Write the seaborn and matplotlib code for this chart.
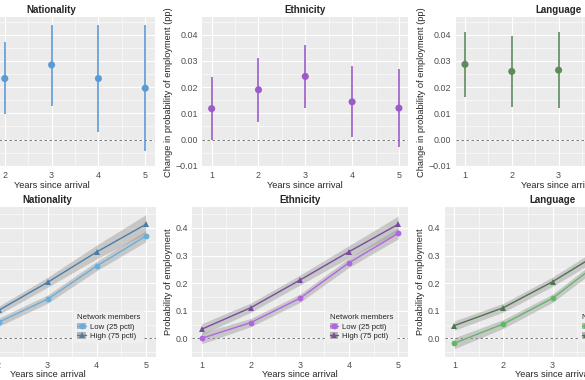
import matplotlib

matplotlib.use("Agg")
import matplotlib.pyplot as plt
import numpy as np
import pandas as pd
import seaborn as sns
from matplotlib.legend_handler import HandlerTuple
from matplotlib.lines import Line2D
from matplotlib.patches import Patch
from matplotlib.ticker import MultipleLocator

# top row: change in probability of employment (point estimate + 95% CI)
nat_years = [2, 3, 4, 5]
nat_est = [0.0233, 0.0285, 0.0233, 0.0196]
nat_lo = [0.0096, 0.0129, 0.0030, -0.0043]
nat_hi = [0.0371, 0.0438, 0.0438, 0.0438]

eth_years = [1, 2, 3, 4, 5]
eth_est = [0.0118, 0.0190, 0.0241, 0.0144, 0.0120]
eth_lo = [-0.0002, 0.0068, 0.0122, 0.0009, -0.0030]
eth_hi = [0.0237, 0.0312, 0.0360, 0.0281, 0.0268]

lang_years = [1, 2, 3]
lang_est = [0.0287, 0.0260, 0.0265]
lang_lo = [0.0164, 0.0124, 0.0122]
lang_hi = [0.0410, 0.0396, 0.0410]

# bottom row: predicted probability of employment, low vs high network
nat_p_years = [2, 3, 4, 5]
nat_p_low = [0.058, 0.142, 0.262, 0.370]
nat_p_high = [0.101, 0.203, 0.313, 0.413]
nat_p_low_se = [0.015, 0.015, 0.017, 0.020]
nat_p_high_se = [0.015, 0.018, 0.025, 0.035]

eth_p_years = [1, 2, 3, 4, 5]
eth_p_low = [0.000, 0.057, 0.145, 0.274, 0.380]
eth_p_high = [0.033, 0.111, 0.211, 0.314, 0.413]
eth_p_low_se = [0.020, 0.015, 0.015, 0.017, 0.020]
eth_p_high_se = [0.020, 0.017, 0.018, 0.022, 0.030]

lang_p_years = [1, 2, 3, 4]
lang_p_low = [-0.018, 0.052, 0.145, 0.281]
lang_p_high = [0.046, 0.111, 0.205, 0.314]
lang_p_low_se = [0.020, 0.016, 0.015, 0.017]
lang_p_high_se = [0.017, 0.016, 0.017, 0.020]

titles = ["Nationality", "Ethnicity", "Language"]
effect_colors = ["#5b9bd5", "#9b5cc8", "#5e8a5e"]
low_colors = ["#6aaedb", "#b066e0", "#63b866"]
high_colors = ["#4a7ea8", "#7a4d9c", "#4f744f"]
legend_labels = ["Low (25 pctl)", "High (75 pctl)"]

sns.set_theme(
    style="darkgrid",
    rc={
        "axes.facecolor": "#ebebeb",
        "grid.color": "white",
        "grid.linewidth": 0.8,
        "xtick.major.size": 1.4,
        "ytick.major.size": 1.4,
        "xtick.major.width": 0.5,
        "ytick.major.width": 0.5,
        "xtick.color": "#333333",
        "ytick.color": "#333333",
        "xtick.labelcolor": "#4d4d4d",
        "ytick.labelcolor": "#4d4d4d",
        "xtick.major.pad": 1.2,
        "ytick.major.pad": 1.5,
        "xtick.labelsize": 6.4,
        "ytick.labelsize": 6.4,
    },
)
plt.rcParams["font.family"] = ["Liberation Sans", "DejaVu Sans"]

W, H = 585, 380
fig = plt.figure(figsize=(W / 100, H / 100), dpi=100)


def px_axes(left, top, width, height):
    return fig.add_axes([left / W, 1 - (top + height) / H, width / W, height / H])


def style_axes(ax, title, ylabel, ylim, minor_y):
    ax.set_xlim(0.8, 5.2)
    ax.set_ylim(*ylim)
    ax.set_xticks([1, 2, 3, 4, 5])
    ax.xaxis.set_minor_locator(MultipleLocator(0.5))
    ax.yaxis.set_minor_locator(MultipleLocator(minor_y))
    ax.grid(which="minor", color="white", linewidth=0.4)
    ax.tick_params(which="minor", length=0)
    ax.axhline(0, color="#666666", linewidth=0.6, linestyle=(0, (3, 3)), zorder=2)
    ax.set_title(title, fontsize=7, fontweight="bold", pad=3)
    ax.set_xlabel("Years since arrival", fontsize=6.7, labelpad=0.8)
    ax.set_ylabel(ylabel, fontsize=6.7, labelpad=2)
    for spine in ax.spines.values():
        spine.set_visible(False)


# top row
top_data = [
    (nat_years, nat_est, nat_lo, nat_hi),
    (eth_years, eth_est, eth_lo, eth_hi),
    (lang_years, lang_est, lang_lo, lang_hi),
]
top_lefts = [-51.4, 202.3, 455.6]
for i, (years, est, lo, hi) in enumerate(top_data):
    ax = px_axes(top_lefts[i], 17, 206, 150)
    style_axes(ax, titles[i], "Change in probability of employment (pp)",
               (-0.0105, 0.0468), 0.005)
    ax.set_yticks([-0.01, 0.0, 0.01, 0.02, 0.03, 0.04])
    ax.set_yticklabels(["\u22120.01", "0.00", "0.01", "0.02", "0.03", "0.04"])
    ax.vlines(years, lo, hi, color=effect_colors[i], linewidth=1.2, zorder=3)
    sns.scatterplot(x=years, y=est, color=effect_colors[i], s=26,
                    edgecolor="none", ax=ax, zorder=4)

# bottom row
bottom_data = [
    (nat_p_years, nat_p_low, nat_p_high, nat_p_low_se, nat_p_high_se),
    (eth_p_years, eth_p_low, eth_p_high, eth_p_low_se, eth_p_high_se),
    (lang_p_years, lang_p_low, lang_p_high, lang_p_low_se, lang_p_high_se),
]
bottom_lefts = [-60.4, 191.9, 444.5]
for i, (years, low, high, low_se, high_se) in enumerate(bottom_data):
    ax = px_axes(bottom_lefts[i], 206.7, 216, 150.3)
    style_axes(ax, titles[i], "Probability of employment", (-0.0678, 0.477), 0.05)
    ax.set_yticks([0.0, 0.1, 0.2, 0.3, 0.4])
    yrs = np.array(years)
    for vals, se, color, marker in [
        (low, low_se, low_colors[i], "o"),
        (high, high_se, high_colors[i], "^"),
    ]:
        vals = np.array(vals)
        se = np.array(se)
        ax.fill_between(yrs, vals - se, vals + se, color="#999999", alpha=0.45,
                        linewidth=0, zorder=3)
        frame = pd.DataFrame({"year": yrs, "p": vals})
        sns.lineplot(data=frame, x="year", y="p", color=color, marker=marker,
                     markersize=4.2, markeredgewidth=0, linewidth=1.0, ax=ax,
                     zorder=4)
    ax.set_xlabel("Years since arrival", fontsize=6.7, labelpad=0.5)
    ax.set_ylabel("Probability of employment", fontsize=6.7, labelpad=2)
    handles = []
    for color, marker in [(low_colors[i], "o"), (high_colors[i], "^")]:
        handles.append((
            Patch(facecolor="#b4b4b4", edgecolor="none"),
            Line2D([], [], color=color, marker=marker, markersize=4.2,
                   markeredgewidth=0, linewidth=1.0),
        ))
    leg = ax.legend(
        handles, legend_labels, title="Network members",
        handler_map={tuple: HandlerTuple(ndivide=1)},
        loc="lower right", bbox_to_anchor=(0.945, 0.09), borderaxespad=0,
        fontsize=5.6, title_fontsize=5.6, frameon=True, fancybox=False,
        facecolor="#efefef", edgecolor="none", framealpha=1,
        handlelength=1.1, handleheight=0.9, handletextpad=0.5,
        labelspacing=0.25, borderpad=0.4,
    )
    leg._legend_box.align = "left"

fig.savefig("out.png", dpi=100)
